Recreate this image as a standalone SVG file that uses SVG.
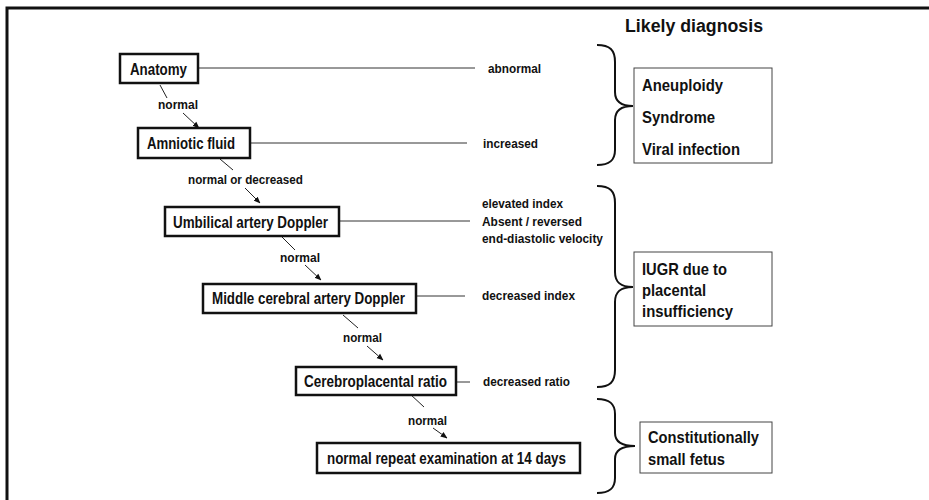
<svg xmlns="http://www.w3.org/2000/svg" width="929" height="500" viewBox="0 0 929 500">
  <defs>
    <marker id="arrow" viewBox="0 0 10 10" refX="9" refY="5" markerWidth="7" markerHeight="7" markerUnits="userSpaceOnUse" orient="auto">
      <path d="M0,1 L10,5 L0,9 Z" fill="#111"/>
    </marker>
    <style>
      text { font-family: "Liberation Sans", Arial, sans-serif; font-weight: bold; fill: #111; }
      .step { fill: #fff; stroke: #111; stroke-width: 2.5; }
      .step-text { font-size: 16px; }
      .label { font-size: 13.5px; }
      .dx { fill: #fff; stroke: #444; stroke-width: 1; }
      .dx-text { font-size: 17px; }
      .rule { stroke: #333; stroke-width: 1; fill: none; }
      .flow { stroke: #222; stroke-width: 1; fill: none; }
      .brace { stroke: #111; stroke-width: 2; fill: none; }
    </style>
  </defs>

  <rect x="0" y="0" width="929" height="500" fill="#fff"/>
  <!-- frame -->
  <path d="M7,500 V8 H929" fill="none" stroke="#111" stroke-width="3"/>

  <!-- connectors -->
  <g id="connectors">
    <line class="rule" x1="198" y1="68" x2="475" y2="68"/>
    <line class="rule" x1="250" y1="143" x2="467" y2="143"/>
    <line class="rule" x1="339" y1="221" x2="470" y2="221"/>
    <line class="rule" x1="416" y1="296" x2="465" y2="296"/>
    <line class="rule" x1="456" y1="382" x2="470" y2="382"/>

    <line class="flow" x1="160" y1="85" x2="167" y2="98"/>
    <line class="flow" x1="183" y1="113" x2="199" y2="128" marker-end="url(#arrow)"/>
    <line class="flow" x1="220" y1="159" x2="233" y2="170"/>
    <line class="flow" x1="245" y1="188" x2="260" y2="203" marker-end="url(#arrow)"/>
    <line class="flow" x1="282" y1="237" x2="295" y2="250"/>
    <line class="flow" x1="305" y1="265" x2="321" y2="280" marker-end="url(#arrow)"/>
    <line class="flow" x1="343" y1="315" x2="358" y2="328"/>
    <line class="flow" x1="367" y1="346" x2="383" y2="360" marker-end="url(#arrow)"/>
    <line class="flow" x1="410" y1="394" x2="424" y2="407"/>
    <line class="flow" x1="433" y1="428" x2="447" y2="438" marker-end="url(#arrow)"/>

    <text class="label" x="158" y="109" textLength="40" lengthAdjust="spacingAndGlyphs">normal</text>
    <text class="label" x="188" y="184" textLength="115" lengthAdjust="spacingAndGlyphs">normal or decreased</text>
    <text class="label" x="280" y="262" textLength="40" lengthAdjust="spacingAndGlyphs">normal</text>
    <text class="label" x="343" y="342" textLength="39" lengthAdjust="spacingAndGlyphs">normal</text>
    <text class="label" x="408" y="425" textLength="39" lengthAdjust="spacingAndGlyphs">normal</text>

    <text class="label" x="488" y="73" textLength="53" lengthAdjust="spacingAndGlyphs">abnormal</text>
    <text class="label" x="483" y="148" textLength="55" lengthAdjust="spacingAndGlyphs">increased</text>
    <text class="label" x="482" y="208" textLength="81" lengthAdjust="spacingAndGlyphs">elevated index</text>
    <text class="label" x="482" y="226" textLength="100" lengthAdjust="spacingAndGlyphs">Absent / reversed</text>
    <text class="label" x="482" y="243" textLength="121" lengthAdjust="spacingAndGlyphs">end-diastolic velocity</text>
    <text class="label" x="482" y="300" textLength="93" lengthAdjust="spacingAndGlyphs">decreased index</text>
    <text class="label" x="483" y="386" textLength="87" lengthAdjust="spacingAndGlyphs">decreased ratio</text>
  </g>

  <!-- examination steps -->
  <g id="anatomy">
    <rect class="step" x="120" y="54" width="78" height="29"/>
    <text class="step-text" x="130" y="75" textLength="57" lengthAdjust="spacingAndGlyphs">Anatomy</text>
  </g>
  <g id="amniotic-fluid">
    <rect class="step" x="138" y="128" width="112" height="30"/>
    <text class="step-text" x="147" y="149" textLength="88" lengthAdjust="spacingAndGlyphs">Amniotic fluid</text>
  </g>
  <g id="umbilical-doppler">
    <rect class="step" x="165" y="207" width="174" height="29"/>
    <text class="step-text" x="173" y="228" textLength="155" lengthAdjust="spacingAndGlyphs">Umbilical artery Doppler</text>
  </g>
  <g id="mca-doppler">
    <rect class="step" x="203" y="284" width="213" height="29"/>
    <text class="step-text" x="212" y="304" textLength="193" lengthAdjust="spacingAndGlyphs">Middle cerebral artery Doppler</text>
  </g>
  <g id="cerebroplacental-ratio">
    <rect class="step" x="296" y="367" width="160" height="28"/>
    <text class="step-text" x="304" y="387" textLength="143" lengthAdjust="spacingAndGlyphs">Cerebroplacental ratio</text>
  </g>
  <g id="repeat-exam">
    <rect class="step" x="317" y="443" width="263" height="30"/>
    <text class="step-text" x="327" y="464" textLength="239" lengthAdjust="spacingAndGlyphs">normal repeat examination at 14 days</text>
  </g>

  <!-- diagnosis column -->
  <g id="diagnosis-title">
    <text x="625" y="32" font-size="18" textLength="138" lengthAdjust="spacingAndGlyphs">Likely diagnosis</text>
  </g>

  <g id="brace-anomaly">
    <path class="brace" d="M597,45 C610,45 615,50 615,62 V92 C615,101 620,106 633,106 C620,106 615,111 615,120 V150 C615,160 610,165 597,165"/>
  </g>
  <g id="dx-anomaly">
    <rect class="dx" x="634" y="68" width="138" height="95"/>
    <text class="dx-text" x="642" y="91" textLength="81" lengthAdjust="spacingAndGlyphs">Aneuploidy</text>
    <text class="dx-text" x="642" y="123" textLength="73" lengthAdjust="spacingAndGlyphs">Syndrome</text>
    <text class="dx-text" x="642" y="155" textLength="98" lengthAdjust="spacingAndGlyphs">Viral infection</text>
  </g>

  <g id="brace-iugr">
    <path class="brace" d="M597,186 C610,186 615,191 615,203 V272 C615,282 620,287 633,287 C620,287 615,292 615,302 V370 C615,382 610,387 597,387"/>
  </g>
  <g id="dx-iugr">
    <rect class="dx" x="634" y="252" width="138" height="74"/>
    <text class="dx-text" x="642" y="275" font-size="18" textLength="85" lengthAdjust="spacingAndGlyphs">IUGR due to</text>
    <text class="dx-text" x="642" y="296" font-size="18" textLength="64" lengthAdjust="spacingAndGlyphs">placental</text>
    <text class="dx-text" x="642" y="317" font-size="18" textLength="91" lengthAdjust="spacingAndGlyphs">insufficiency</text>
  </g>

  <g id="brace-constitutional">
    <path class="brace" d="M597,399 C610,399 615,404 615,414 V433 C615,441 620,446 635,446 C620,446 615,451 615,459 V478 C615,488 610,493 597,493"/>
  </g>
  <g id="dx-constitutional">
    <rect class="dx" x="640" y="422" width="132" height="51"/>
    <text class="dx-text" x="648" y="443" textLength="111" lengthAdjust="spacingAndGlyphs">Constitutionally</text>
    <text class="dx-text" x="648" y="465" textLength="77" lengthAdjust="spacingAndGlyphs">small fetus</text>
  </g>
</svg>
